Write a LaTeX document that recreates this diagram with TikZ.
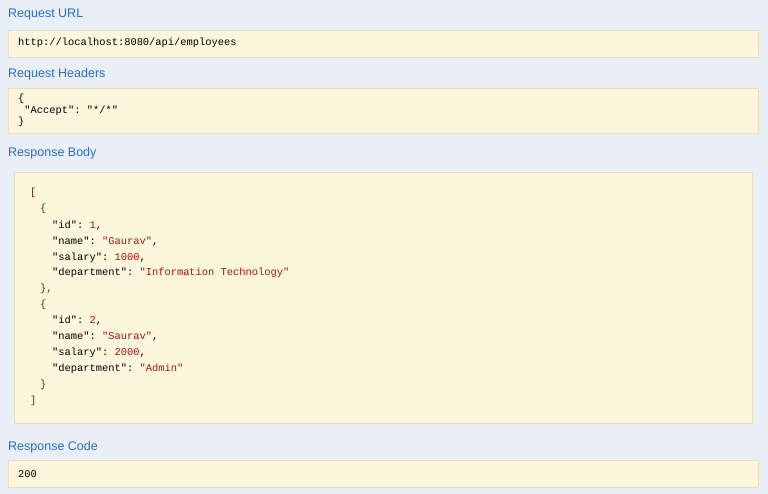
\documentclass[tikz,border=0pt]{standalone}
\usepackage{fontspec}
\setmainfont{Liberation Sans}
\setmonofont{Liberation Mono}
\definecolor{bg}{HTML}{E8EFF7}
\definecolor{boxfill}{HTML}{FCF6DC}
\definecolor{boxline}{HTML}{E8DFB8}
\definecolor{ttl}{HTML}{2D6EB8}
\definecolor{val}{HTML}{A31515}
\definecolor{brk}{HTML}{6B2A00}
\definecolor{brc}{HTML}{3A3A1A}
\tikzset{
  title/.style={anchor=west,inner sep=0pt,text=ttl,font=\fontsize{12.5}{14}\selectfont},
  box/.style={fill=boxfill,draw=boxline,line width=0.6pt},
  code/.style={anchor=west,inner sep=0pt,font=\ttfamily\fontsize{10.4}{12}\selectfont},
}
\newcommand{\V}[1]{\textcolor{val}{#1}}
\begin{document}
\begin{tikzpicture}[x=1pt,y=-1pt]
\fill[bg] (0,0) rectangle (768,494);
\useasboundingbox (0,0) rectangle (768,494);
\node[title] (t1) at (8,15) {Request URL};
\draw[box] (8,30) rectangle (758,57);
\node[code] (url) at (18,43) {http://localhost:8080/api/employees};
\node[title] (t2) at (8,74) {Request Headers};
\draw[box] (8,88) rectangle (758,133);
\node[code] (h1) at (18,99) {\{};
\node[code] (h2) at (18,111) {\ "Accept": "*/*"};
\node[code] (h3) at (18,122) {\}};
\node[title] (t3) at (8,153) {Response Body};
\draw[box] (14,172) rectangle (752,423);
\node[code,text=brk] (b1) at (30,193) {[};
\node[code,text=brc] (b2) at (40,209) {\{};
\node[code] (b3) at (52,226) {"id": \V{1},};
\node[code] (b4) at (52,242) {"name": \V{"Gaurav"},};
\node[code] (b5) at (52,258) {"salary": \V{1000},};
\node[code] (b6) at (52,273) {"department": \V{"Information Technology"}};
\node[code,text=brc] (b7) at (40,289) {\},};
\node[code,text=brc] (b8) at (40,305) {\{};
\node[code] (b9) at (52,321) {"id": \V{2},};
\node[code] (b10) at (52,337) {"name": \V{"Saurav"},};
\node[code] (b11) at (52,353) {"salary": \V{2000},};
\node[code] (b12) at (52,369) {"department": \V{"Admin"}};
\node[code,text=brc] (b13) at (40,385) {\}};
\node[code,text=brk] (b14) at (30,401) {]};
\node[title] (t4) at (8,447) {Response Code};
\draw[box] (8,460) rectangle (758,487);
\node[code] (rc) at (18,474) {200};
\end{tikzpicture}
\end{document}
